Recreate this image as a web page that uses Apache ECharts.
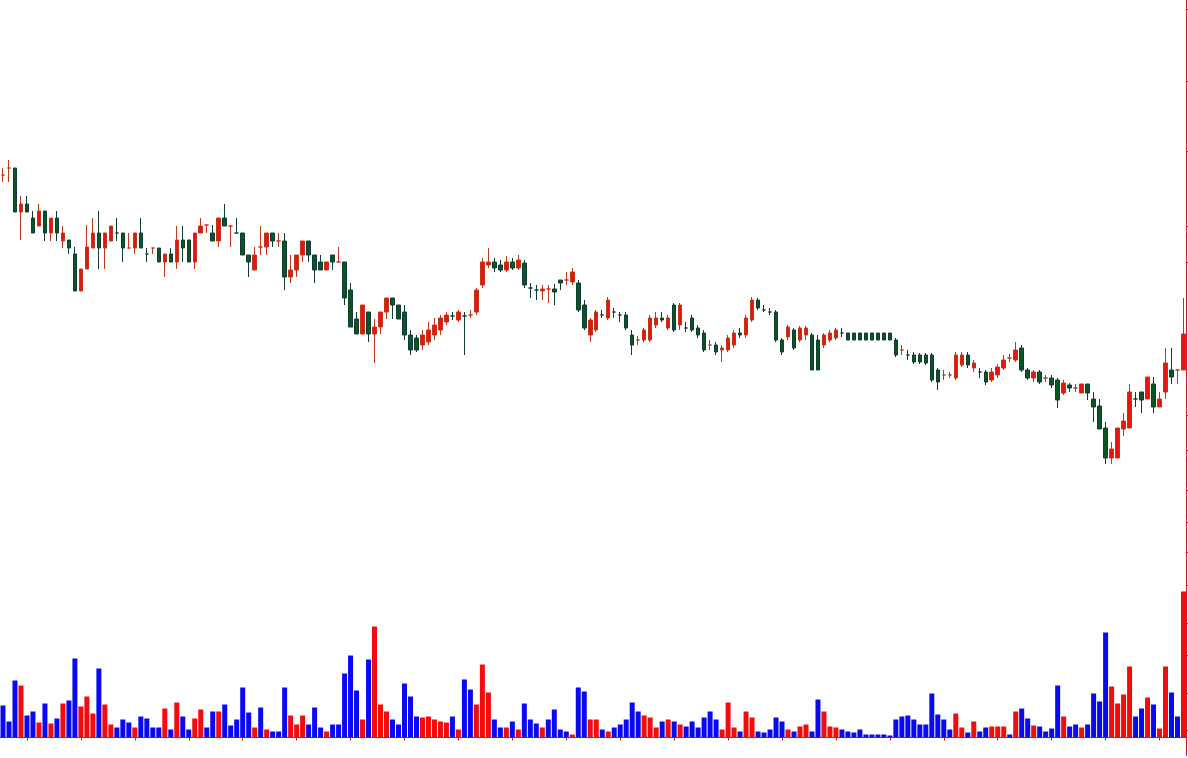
<!DOCTYPE html>
<html>
<head>
<meta charset="utf-8">
<script src="https://cdn.jsdelivr.net/npm/echarts@6/dist/echarts.min.js"></script>
<style>
html,body{margin:0;padding:0;background:#fff;}
#chart{width:1188px;height:758px;}
</style>
</head>
<body>
<div id="chart"></div>
<script>
// Price data per trading day
const openP = [8.25,8.32,8.32,7.88,7.96,7.82,7.74,7.89,7.67,7.82,7.59,7.60,7.46,7.09,7.31,7.52,7.67,7.52,7.59,7.67,7.67,7.52,7.52,7.67,7.46,7.52,7.52,7.38,7.46,7.38,7.60,7.60,7.38,7.67,
7.75,7.67,7.59,7.82,7.74,7.67,7.67,7.45,7.30,7.53,7.53,7.67,7.59,7.59,7.23,7.30,7.45,7.59,7.45,7.38,7.30,7.45,7.38,7.38,7.10,6.81,6.66,6.88,6.66,6.73,6.88,7.02,6.95,
6.88,6.65,6.62,6.55,6.58,6.65,6.70,6.78,6.84,6.80,6.84,6.85,6.88,
7.15,7.35,7.38,7.35,7.30,7.38,7.32,7.37,7.12,7.10,7.09,7.11,7.11,7.20,7.20,7.18,7.17,6.95,6.65,6.70,
6.85,6.82,6.88,6.85,6.85,6.65,6.60,6.60,6.60,6.75,6.82,6.72,6.95,6.75,6.72,6.82,6.72,6.67,6.55,6.55,
6.50,6.50,6.55,6.67,6.65,6.80,7.00,6.90,6.88,6.88,6.60,6.63,6.70,6.60,6.65,6.65,6.60,6.55,6.60,6.62,
6.67,6.67,6.67,6.67,6.67,6.67,6.67,6.67,6.67,6.60,6.50,6.45,6.45,6.45,6.45,6.45,6.30,6.25,6.25,6.22,
6.35,6.45,6.32,6.28,6.28,6.20,6.25,6.32,6.42,6.40,6.52,6.30,6.22,6.28,6.22,6.22,6.20,6.07,6.15,6.12,
6.07,6.16,6.01,5.94,5.72,5.42,5.42,5.71,5.72,6.01,6.08,6.01,6.16,5.93,6.08,6.30,6.30,6.30];
const closeP = [8.25,8.32,7.88,7.96,7.88,7.67,7.89,7.67,7.82,7.67,7.67,7.52,7.09,7.31,7.53,7.67,7.52,7.67,7.74,7.67,7.52,7.52,7.67,7.52,7.46,7.52,7.38,7.46,7.38,7.60,7.52,7.38,7.67,7.74,
7.75,7.59,7.82,7.74,7.74,7.67,7.45,7.38,7.45,7.53,7.67,7.59,7.59,7.23,7.30,7.45,7.59,7.45,7.30,7.30,7.38,7.38,7.38,7.02,6.73,6.66,6.95,6.66,6.73,6.88,7.02,6.95,6.81,
6.65,6.50,6.50,6.65,6.70,6.75,6.82,6.85,6.84,6.88,6.84,6.85,7.10,
7.38,7.38,7.32,7.30,7.38,7.32,7.40,7.15,7.12,7.10,7.11,7.11,7.08,7.17,7.20,7.28,6.90,6.72,6.80,6.88,
6.85,7.00,6.88,6.85,6.72,6.55,6.60,6.70,6.82,6.82,6.80,6.82,6.70,6.95,6.72,6.70,6.65,6.50,6.55,6.48,
6.52,6.62,6.67,6.65,6.82,7.00,6.92,6.90,6.88,6.60,6.48,6.73,6.52,6.72,6.72,6.30,6.30,6.65,6.67,6.70,
6.67,6.60,6.60,6.60,6.60,6.60,6.60,6.60,6.60,6.45,6.50,6.45,6.38,6.38,6.37,6.20,6.18,6.25,6.25,6.45,
6.45,6.35,6.37,6.28,6.18,6.28,6.33,6.40,6.42,6.50,6.30,6.22,6.28,6.18,6.22,6.15,6.00,6.17,6.12,6.12,
6.16,6.07,5.93,5.71,5.42,5.51,5.72,5.79,6.08,6.01,6.00,6.23,5.93,6.01,6.37,6.23,6.30,6.66];
const lowP = [8.18,8.18,7.88,7.60,7.88,7.67,7.74,7.59,7.59,7.59,7.52,7.46,7.09,7.09,7.31,7.52,7.31,7.31,7.59,7.59,7.38,7.52,7.46,7.52,7.38,7.46,7.38,7.23,7.38,7.31,7.38,7.38,7.31,7.67,
7.67,7.59,7.53,7.74,7.53,7.67,7.45,7.23,7.30,7.45,7.45,7.53,7.53,7.10,7.17,7.23,7.38,7.38,7.17,7.30,7.30,7.30,7.38,6.95,6.73,6.66,6.66,6.58,6.37,6.66,6.81,6.81,6.81,
6.60,6.45,6.48,6.50,6.55,6.60,6.65,6.75,6.80,6.78,6.45,6.82,6.85,
7.12,7.32,7.28,7.28,7.28,7.30,7.30,7.12,7.02,7.00,7.00,6.97,6.95,7.10,7.15,7.15,6.88,6.70,6.58,6.68,
6.82,6.80,6.82,6.78,6.70,6.45,6.55,6.58,6.58,6.72,6.78,6.70,6.68,6.70,6.68,6.68,6.62,6.48,6.50,6.45,
6.38,6.48,6.52,6.62,6.62,6.78,6.90,6.88,6.85,6.58,6.45,6.60,6.50,6.58,6.60,6.30,6.30,6.52,6.58,6.60,
6.63,6.60,6.60,6.60,6.60,6.60,6.60,6.60,6.60,6.43,6.45,6.40,6.36,6.36,6.35,6.18,6.10,6.20,6.22,6.20,
6.33,6.32,6.28,6.22,6.15,6.18,6.22,6.30,6.38,6.38,6.28,6.20,6.18,6.16,6.18,6.12,5.92,6.05,6.08,6.08,
6.07,6.00,5.78,5.71,5.36,5.36,5.42,5.64,5.72,5.93,5.87,6.01,5.87,5.93,6.01,6.16,6.16,6.30];
const highP = [8.32,8.40,8.32,8.04,8.04,7.89,7.96,7.89,7.82,7.89,7.74,7.60,7.53,7.31,7.75,7.82,7.89,7.67,7.74,7.82,7.67,7.67,7.67,7.82,7.52,7.52,7.52,7.46,7.52,7.74,7.74,7.60,7.67,7.82,
7.75,7.75,7.82,7.96,7.74,7.82,7.67,7.45,7.53,7.74,7.67,7.67,7.67,7.67,7.45,7.45,7.59,7.59,7.45,7.45,7.38,7.45,7.53,7.38,7.17,6.88,6.95,6.88,6.81,6.88,7.02,7.02,6.95,
6.95,6.70,6.65,6.70,6.78,6.82,6.85,6.88,6.88,6.90,6.88,6.90,7.12,
7.42,7.52,7.42,7.40,7.44,7.42,7.45,7.40,7.17,7.15,7.15,7.15,7.16,7.20,7.28,7.32,7.20,7.00,6.82,6.90,
6.90,7.03,6.92,6.88,6.88,6.70,6.64,6.72,6.85,6.88,6.88,6.85,6.97,6.97,6.78,6.85,6.75,6.70,6.60,6.58,
6.55,6.65,6.70,6.72,6.85,7.03,7.02,6.95,6.92,6.90,6.62,6.75,6.72,6.74,6.74,6.67,6.65,6.67,6.70,6.72,
6.72,6.67,6.67,6.67,6.67,6.67,6.67,6.67,6.67,6.62,6.55,6.50,6.48,6.47,6.47,6.47,6.32,6.30,6.28,6.48,
6.48,6.48,6.40,6.32,6.30,6.32,6.36,6.45,6.46,6.58,6.55,6.32,6.30,6.30,6.25,6.25,6.22,6.20,6.17,6.16,
6.16,6.16,6.08,6.01,5.78,5.58,5.72,5.87,6.16,6.08,6.08,6.23,6.23,6.08,6.52,6.52,6.30,7.02];
// Volume (thousand shares)
const volume = [32,16,57,52,22,26,15,34,14,19,34,37,79,31,41,24,69,33,13,10,18,15,10,21,19,10,10,29,8,35,21,8,19,28,
10,26,26,33,12,18,50,25,10,30,8,6,6,50,22,13,22,13,30,10,6,13,13,
64,82,47,18,78,111,33,26,18,13,54,41,21,20,21,18,16,15,21,8,58,48,33,
73,45,18,10,10,16,8,34,18,14,10,18,28,8,6,3,50,46,18,18,
8,6,10,13,18,35,26,22,20,10,16,18,16,13,11,16,10,20,26,18,
8,35,10,6,26,20,6,5,8,20,16,8,6,11,13,6,38,26,11,10,
8,6,5,8,3,3,3,3,2,18,21,22,18,13,13,44,23,18,8,24,
10,5,16,6,10,11,11,
11,3,26,29,19,12,11,6,9,52,21,11,13,10,13,44,36,105,51,34,43,71,21,29,40,33,9,71,45,21,146];
// Tick positions on the right-hand scales
const priceTicks = [9.91,9.19,8.49,7.74];
const volumeTicks = [475,322,287,247,215,185,152,114,82,44,7];

const days = openP.map((_, i) => String(i + 1));
const candleData = openP.map((o, i) => [o, closeP[i], lowP[i], highP[i]]);
const UP = '#e8150e', DOWN = '#0a5622';
const VUP = '#f20c0c', VDOWN = '#0a0af2';
const volData = volume.map((v, i) => ({
  value: v,
  itemStyle: { color: closeP[i] > openP[i] ? VUP : VDOWN }
}));
const AXIS = '#c81e24';

const chart = echarts.init(document.getElementById('chart'), null, { renderer: 'canvas' });
chart.setOption({
  animation: false,
  backgroundColor: '#ffffff',
  grid: { left: -1.5, right: 1.5, top: 0, bottom: 2.5, containLabel: false },
  xAxis: {
    type: 'category',
    data: days,
    boundaryGap: true,
    axisLine: { show: true, lineStyle: { color: AXIS, width: 1 } },
    axisTick: { show: true, alignWithLabel: true, length: 3, interval: (i) => (i - 4) % 9 === 0, lineStyle: { color: AXIS } },
    axisLabel: { show: false },
    splitLine: { show: false }
  },
  yAxis: [
    {
      type: 'value', position: 'right', min: 2.445, max: 10,
      axisLine: { show: true, lineStyle: { color: AXIS, width: 1 } },
      axisTick: { show: true, length: 3, lineStyle: { color: AXIS }, customValues: priceTicks },
      axisLabel: { show: false },
      splitLine: { show: false }
    },
    {
      type: 'value', position: 'right', min: -18, max: 737.5,
      axisLine: { show: false },
      axisTick: { show: true, length: 3, lineStyle: { color: AXIS }, customValues: volumeTicks },
      axisLabel: { show: false },
      splitLine: { show: false }
    }
  ],
  series: [
    {
      type: 'candlestick',
      yAxisIndex: 0,
      data: candleData,
      barWidth: 4,
      itemStyle: {
        color: UP, color0: DOWN,
        borderColor: '#c2361a', borderColor0: '#103c34',
        borderWidth: 1
      }
    },
    {
      type: 'bar',
      yAxisIndex: 1,
      data: volData,
      barWidth: 5
    }
  ]
});
</script>
</body>
</html>
